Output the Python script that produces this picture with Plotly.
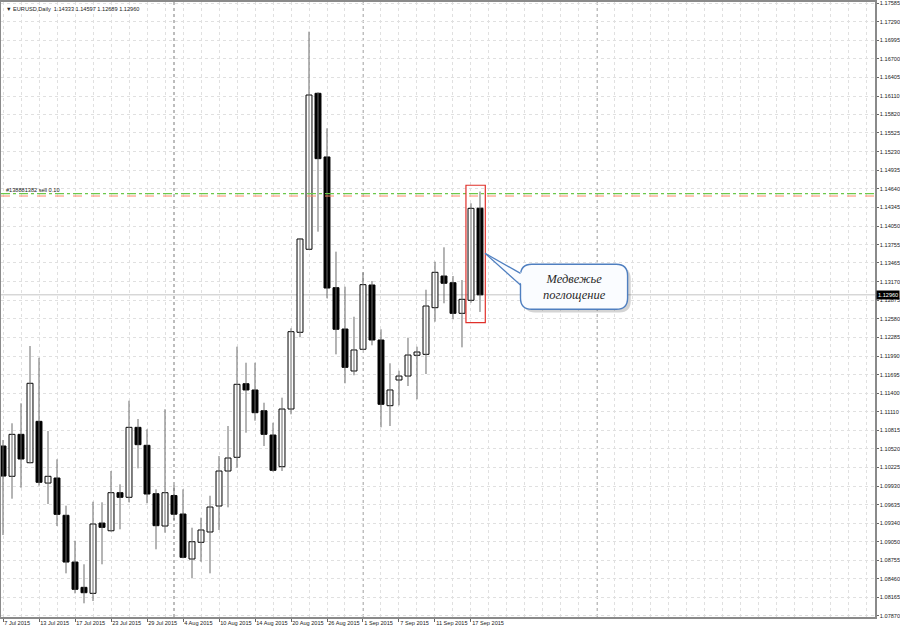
import plotly.graph_objects as go

# ---------------- data ----------------
opens = [1.10564, 1.10084, 1.10749, 1.10299, 1.10955, 1.09977, 1.10057, 1.09466, 1.08725, 1.08324,
         1.08229, 1.09343, 1.09221, 1.09824, 1.09751, 1.10860, 1.10575, 1.09808, 1.09296, 1.09779,
         1.09486, 1.08773, 1.09038, 1.09201, 1.09613, 1.10168, 1.10385, 1.11551, 1.11452, 1.11123,
         1.10738, 1.10236, 1.11150, 1.12366, 1.13682, 1.16154, 1.15145, 1.13073, 1.12418, 1.11753,
         1.12097, 1.13116, 1.12244, 1.11203, 1.11610, 1.11673, 1.12002, 1.12017, 1.12756, 1.13258,
         1.13152, 1.12667, 1.12873, 1.14333]
highs = [1.10659, 1.10924, 1.11241, 1.12149, 1.11963, 1.10802, 1.10353, 1.09618, 1.09063, 1.08689,
         1.09681, 1.09672, 1.10168, 1.09957, 1.11282, 1.10992, 1.10829, 1.09878, 1.11146, 1.09946,
         1.09878, 1.09269, 1.09428, 1.09776, 1.10405, 1.10881, 1.12138, 1.11884, 1.11884, 1.11250,
         1.10933, 1.11330, 1.12429, 1.13856, 1.17131, 1.16170, 1.15599, 1.13644, 1.13089, 1.12613,
         1.13317, 1.13179, 1.12414, 1.11875, 1.11757, 1.12281, 1.12138, 1.13041, 1.13485, 1.13713,
         1.13258, 1.13195, 1.14411, 1.14597]
lows = [1.09153, 1.09729, 1.09903, 1.10290, 1.09935, 1.09645, 1.09296, 1.08546, 1.08229, 1.08071,
        1.08107, 1.08689, 1.09206, 1.09244, 1.09672, 1.10210, 1.09656, 1.08927, 1.09190, 1.09391,
        1.08784, 1.08467, 1.08730, 1.08546, 1.09233, 1.09592, 1.10220, 1.10775, 1.10965, 1.10564,
        1.10157, 1.10168, 1.11066, 1.12287, 1.13671, 1.13961, 1.12905, 1.12017, 1.11558, 1.11685,
        1.12086, 1.12160, 1.10860, 1.10881, 1.11209, 1.11515, 1.11304, 1.11705, 1.12534, 1.12826,
        1.12572, 1.12128, 1.12835, 1.12689]
closes = [1.10088, 1.10749, 1.10358, 1.11558, 1.09989, 1.10084, 1.09481, 1.08725, 1.08293, 1.08239,
          1.09328, 1.09275, 1.09824, 1.09751, 1.10860, 1.10585, 1.09803, 1.09301, 1.09824, 1.09483,
          1.08800, 1.09047, 1.09233, 1.09597, 1.10168, 1.10374, 1.11542, 1.11452, 1.11092, 1.10749,
          1.10179, 1.11150, 1.12376, 1.13845, 1.16127, 1.15118, 1.13068, 1.12414, 1.11811, 1.12086,
          1.13121, 1.12244, 1.11225, 1.11452, 1.11673, 1.12006, 1.12054, 1.12783, 1.13317, 1.13143,
          1.12667, 1.12889, 1.14331, 1.12960]

date_labels = ["7 Jul 2015", "13 Jul 2015", "17 Jul 2015", "23 Jul 2015", "29 Jul 2015",
               "4 Aug 2015", "10 Aug 2015", "14 Aug 2015", "20 Aug 2015", "26 Aug 2015",
               "1 Sep 2015", "7 Sep 2015", "11 Sep 2015", "17 Sep 2015"]
date_label_bars = [0, 4, 8, 12, 16, 20, 24, 28, 32, 36, 40, 44, 48, 52]

price_ticks = [1.17585, 1.17290, 1.16995, 1.16700, 1.16405, 1.16110, 1.15820, 1.15525, 1.15230,
               1.14935, 1.14640, 1.14345, 1.14050, 1.13755, 1.13465, 1.13170, 1.12875, 1.12580,
               1.12285, 1.11990, 1.11695, 1.11400, 1.11110, 1.10815, 1.10520, 1.10225, 1.09930,
               1.09635, 1.09340, 1.09050, 1.08755, 1.08460, 1.08165, 1.07870]

separator_bars = [19, 40, 66]
order_line_price = 1.14565
stop_line_price = 1.14526
order_label = "#138881382 sell 0.10"
symbol_title = "EURUSD,Daily"
callout_text = "Медвежье<br>поглощение"

# ---------------- figure ----------------
n = len(opens)
idx = list(range(n))

wx, wy = [], []
for i in idx:
    wx += [i, i, None]
    wy += [lows[i], highs[i], None]

body_base = [min(o, c) for o, c in zip(opens, closes)]
body_h = [abs(c - o) for o, c in zip(opens, closes)]
body_fill = ["#ffffff" if c >= o else "#000000" for o, c in zip(opens, closes)]

fig = go.Figure()
fig.add_trace(go.Scatter(x=wx, y=wy, mode="lines", line=dict(color="#6a6a6a", width=1),
                         hoverinfo="skip", showlegend=False))
fig.add_trace(go.Bar(x=idx, y=body_h, base=body_base, width=0.66,
                     marker=dict(color=body_fill, line=dict(color="#000000", width=1)),
                     hoverinfo="skip", showlegend=False))

x_lo, x_hi = -0.222, 96.89
y_lo, y_hi = 1.07854, 1.17601

shapes = []
# month separators
for b in separator_bars:
    shapes.append(dict(type="line", xref="x", yref="paper", x0=b, x1=b, y0=0, y1=1,
                       line=dict(color="#7a7a7a", width=1, dash="dot"), layer="below"))
# bid line
shapes.append(dict(type="line", xref="paper", yref="y", x0=0, x1=1, y0=closes[-1], y1=closes[-1],
                   line=dict(color="#c4c4c4", width=1), layer="below"))
# order lines
shapes.append(dict(type="line", xref="paper", yref="y", x0=0, x1=1, y0=stop_line_price, y1=stop_line_price,
                   line=dict(color="#ff8a6a", width=1, dash="dash")))
shapes.append(dict(type="line", xref="paper", yref="y", x0=0, x1=1, y0=order_line_price, y1=order_line_price,
                   line=dict(color="#6cc84a", width=1.3, dash="dashdot")))

# red highlight box around the last two candles
shapes.append(dict(type="rect", xref="x", yref="y", x0=n - 2 - 0.56, x1=n - 1 + 0.59,
                   y0=min(lows[-2:]) - 0.0017, y1=max(highs[-2:]) + 0.0010,
                   line=dict(color="#e0302a", width=1.2), fillcolor="rgba(0,0,0,0)"))

# callout
bx0, bx1, by0, by1 = 57.5, 69.4, 1.12731, 1.13444
rx, ry = 1.25, 0.0018
def rounded(x0, x1, y0, y1):
    return (f"M {x0+rx},{y1} L {x1-rx},{y1} Q {x1},{y1} {x1},{y1-ry} L {x1},{y0+ry} "
            f"Q {x1},{y0} {x1-rx},{y0} L {x0+rx},{y0} Q {x0},{y0} {x0},{y0+ry} "
            f"L {x0},{y1-ry} Q {x0},{y1} {x0+rx},{y1} Z")
shapes.append(dict(type="path", xref="x", yref="y", path=rounded(bx0 + 0.35, bx1 + 0.35, by0 - 0.0005, by1 - 0.0005),
                   fillcolor="rgba(60,60,60,0.22)", line=dict(width=0)))
shapes.append(dict(type="path", xref="x", yref="y", path=rounded(bx0, bx1, by0, by1),
                   fillcolor="#fafcff", line=dict(color="#4f7fc0", width=1.4)))
tipx, tipy = n - 1 + 0.56, 1.13618
t1y, t2y = 1.13300, 1.13115
shapes.append(dict(type="path", xref="x", yref="y",
                   path=f"M {tipx},{tipy} L {bx0+0.25},{t1y} L {bx0+0.25},{t2y} Z",
                   fillcolor="#fafcff", line=dict(width=0)))
shapes.append(dict(type="line", xref="x", yref="y", x0=tipx, y0=tipy, x1=bx0, y1=t1y,
                   line=dict(color="#4f7fc0", width=1.2)))
shapes.append(dict(type="line", xref="x", yref="y", x0=tipx, y0=tipy, x1=bx0, y1=t2y,
                   line=dict(color="#4f7fc0", width=1.2)))

small = dict(family="Liberation Sans, Arial, sans-serif", size=5.6, color="#222222")

annotations = [
    dict(xref="paper", yref="paper", x=0.004, y=0.997, xanchor="left", yanchor="top", showarrow=False,
         text=f"▼ {symbol_title}  {opens[-1]:.5f} {highs[-1]:.5f} {lows[-1]:.5f} {closes[-1]:.5f}",
         font=small),
    dict(xref="paper", yref="y", x=0.004, y=order_line_price, xanchor="left", yanchor="bottom",
         showarrow=False, text=order_label, font=small, yshift=-1),
    dict(xref="paper", yref="y", x=1.0, y=closes[-1], xanchor="left", yanchor="middle", showarrow=False,
         text=f"{closes[-1]:.5f}", bgcolor="#000000", borderpad=1, xshift=1,
         font=dict(family="Liberation Sans, Arial, sans-serif", size=5.6, color="#ffffff")),
    dict(xref="x", yref="y", x=(bx0 + bx1) / 2, y=(by0 + by1) / 2, showarrow=False,
         text=callout_text,
         font=dict(family="Liberation Serif, DejaVu Serif, serif", size=12.5, color="#2a2a2a",
                   style="italic")),
]

grid = dict(gridcolor="#e0e0e0", griddash="dot", gridwidth=1)

fig.update_layout(
    width=900, height=629,
    margin=dict(l=1, r=25, t=2, b=12),
    paper_bgcolor="#ffffff", plot_bgcolor="#ffffff",
    barmode="overlay", showlegend=False,
    shapes=shapes, annotations=annotations,
    xaxis=dict(range=[x_lo, x_hi], tickmode="array", tickvals=date_label_bars, ticktext=date_labels,
               ticklabelposition="outside right", tickangle=0, ticks="outside", ticklen=3,
               tickcolor="#666666", tickfont=small, showline=True, linecolor="#8a8a8a", linewidth=1.5,
               mirror=True, showgrid=True, **grid, zeroline=False, automargin=False,
               minor=dict(tickmode="linear", tick0=0, dtick=2, showgrid=True, gridcolor="#e0e0e0",
                          griddash="dot", ticklen=0)),
    yaxis=dict(range=[y_lo, y_hi], side="right", tickmode="array", tickvals=price_ticks,
               ticktext=[f"{v:.5f}" for v in price_ticks], ticks="outside", ticklen=2, tickcolor="#666666",
               tickfont=small, showline=True, linecolor="#8a8a8a", linewidth=1.5, mirror=True,
               ticklabeloverflow="allow",
               showgrid=True, **grid, zeroline=False, automargin=False),
)

fig.write_html("out.html", config={"displayModeBar": False},
               post_script="document.body.style.margin='0';document.body.style.padding='0';")
